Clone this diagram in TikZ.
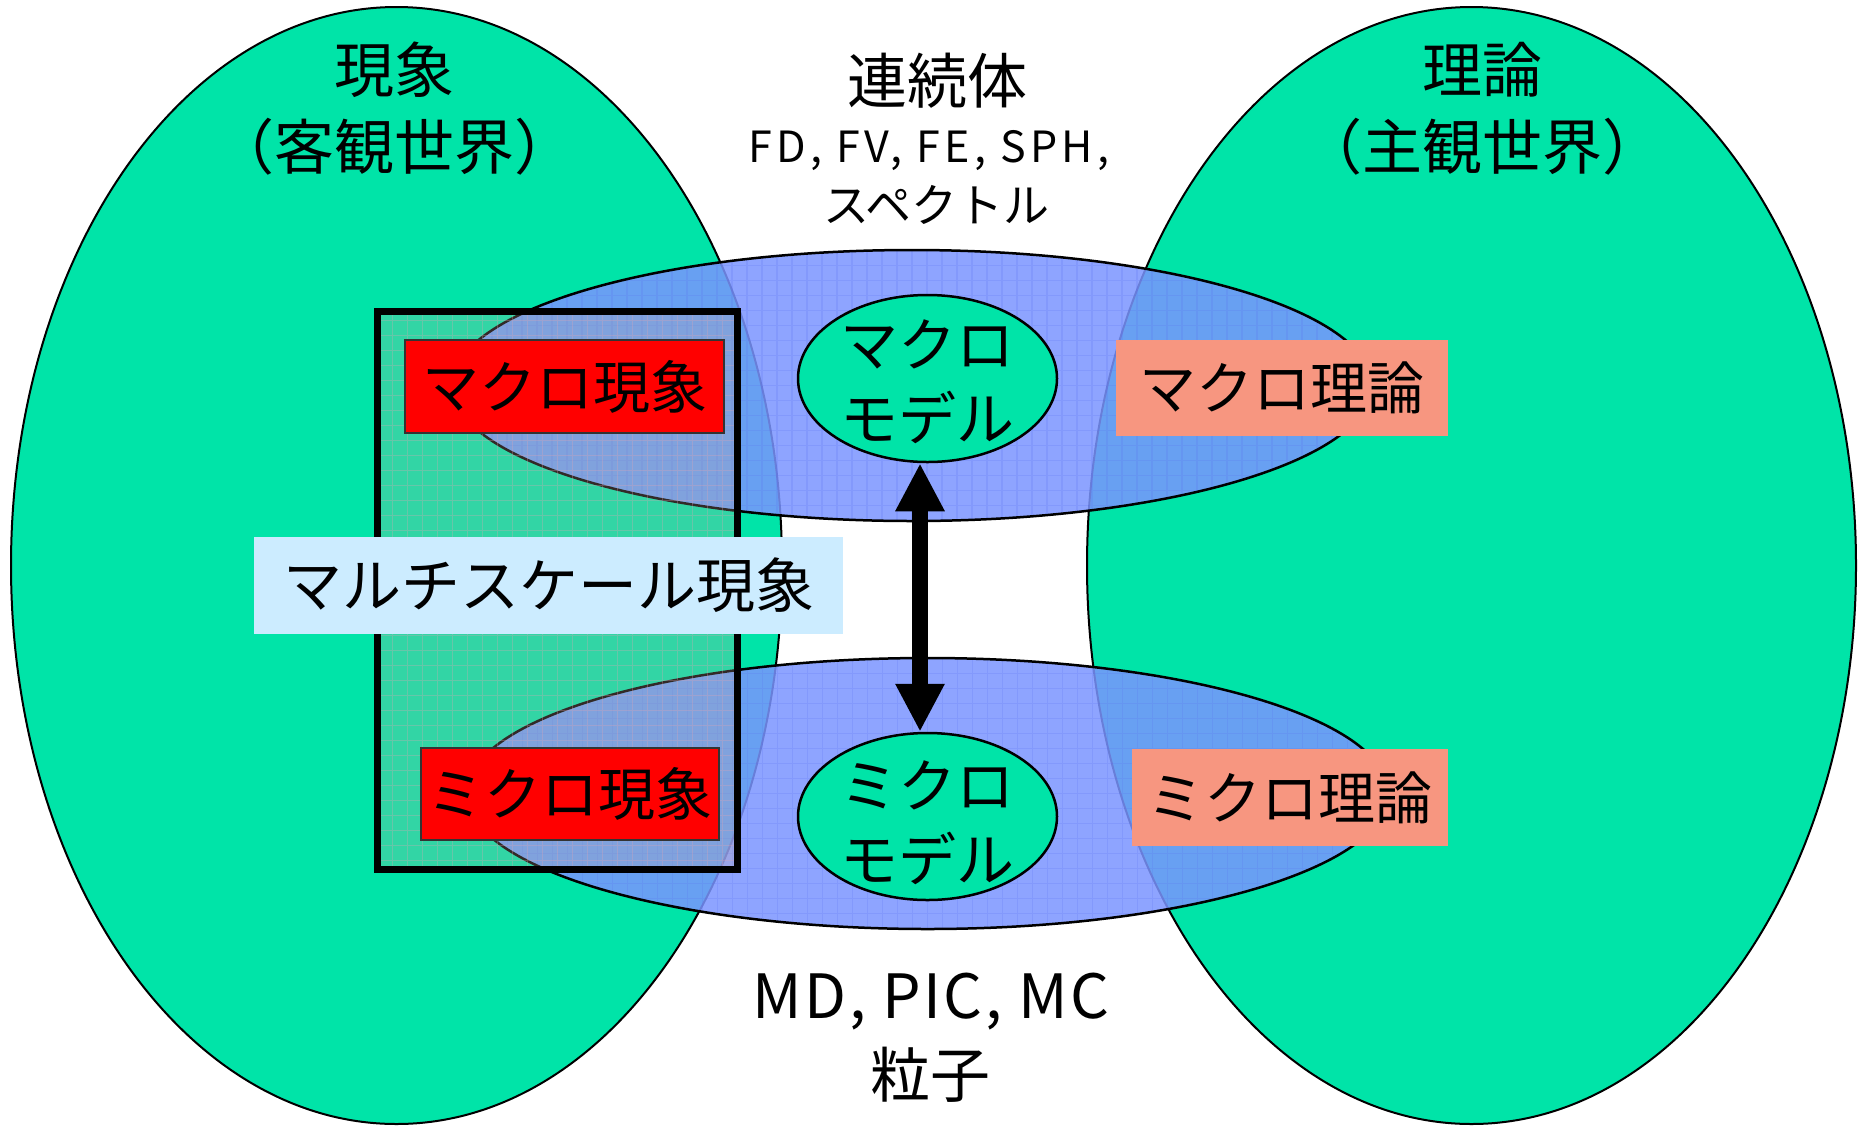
\documentclass[tikz,border=0pt]{standalone}
\usepackage{fontspec}
\setmainfont{Noto Sans CJK JP}
\usetikzlibrary{shapes.geometric,arrows.meta}
\definecolor{mint}{RGB}{0,228,168}
\definecolor{periw}{RGB}{123,149,255}
\definecolor{gridblue}{RGB}{90,110,240}
\definecolor{rectfill}{RGB}{200,170,160}
\definecolor{rectgridc}{RGB}{225,165,180}
\definecolor{salmonc}{RGB}{247,150,128}
\definecolor{skyc}{RGB}{204,236,255}
\newcommand{\fsz}[2]{\fontsize{#1pt}{#2pt}\selectfont}
\begin{document}
\begin{tikzpicture}[x=1pt,y=-1pt,
  world/.style={draw=black,line width=2pt,fill=mint},
  scaleell/.style={ellipse,draw=black,line width=2.5pt,fill=periw,fill opacity=0.85,inner sep=0pt,
    path picture={\draw[gridblue,draw opacity=0.2,line width=1.2pt]
      (path picture bounding box.south west) grid[step=15pt] (path picture bounding box.north east);}},
  multibox/.style={rectangle,draw=black,line width=7pt,fill=rectfill,fill opacity=0.25,inner sep=0pt,
    path picture={\draw[rectgridc,draw opacity=0.3,line width=1pt]
      (path picture bounding box.south west) grid[step=15pt] (path picture bounding box.north east);}},
  redlabel/.style={rectangle,draw=black!80,line width=1.5pt,fill=red,inner sep=0pt,font=\fsz{57}{68}},
  theorylabel/.style={rectangle,fill=salmonc,inner sep=0pt,font=\fsz{57}{68}},
  skylabel/.style={rectangle,fill=skyc,inner sep=0pt,font=\fsz{59}{70}},
  model/.style={ellipse,draw=black,line width=2.5pt,fill=mint,inner sep=0pt,
    minimum width=259pt,minimum height=167pt},
  title/.style={align=center,inner sep=0pt,font=\fsz{60}{77}},
  modeltext/.style={align=center,inner sep=0pt,font=\fsz{58}{74}},
  plain/.style={inner sep=0pt,anchor=base},
  biarrow/.style={line width=16pt,arrows={Triangle[length=48pt,width=46pt]-Triangle[length=48pt,width=46pt]}}
]
\useasboundingbox (0,0) rectangle (1860,1125);
\fill[white] (0,0) rectangle (1860,1125);

% two worlds
\draw[world] (396.5,565.5) ellipse [x radius=385.5pt, y radius=558.5pt];
\draw[world] (1471.5,565.5) ellipse [x radius=384.5pt, y radius=558.5pt];

% scale ellipses
\node[scaleell,minimum width=920pt,minimum height=271pt] (contin) at (912,385.5) {};
\node[scaleell,minimum width=922pt,minimum height=271pt] (partic) at (927.5,793.5) {};

% multiscale box
\node[multibox,minimum width=360pt,minimum height=558pt] (ms) at (557,590) {};

% labels in boxes
\node[redlabel,minimum width=319pt,minimum height=93pt] (macph) at (564.5,386.5) {マクロ現象};
\node[redlabel,minimum width=298pt,minimum height=92pt] (micph) at (570,794) {ミクロ現象};
\node[skylabel,minimum width=589pt,minimum height=97pt] (msl) at (548.5,585.5) {マルチスケール現象};
\node[theorylabel,minimum width=332pt,minimum height=96pt] (macth) at (1282,388) {マクロ理論};
\node[theorylabel,minimum width=316pt,minimum height=97pt] (micth) at (1290,797.5) {ミクロ理論};

% models
\node[model] (macro) at (927.5,378.5) {};
\node[model] (micro) at (927.5,816.5) {};
\node[modeltext] (macrot) at (927.5,381.5) {マクロ\\モデル};
\node[modeltext] (microt) at (927.5,822.5) {ミクロ\\モデル};

\draw[biarrow] ([xshift=-7.5pt]macro.south) -- ([xshift=-7.5pt]micro.north);

% titles
\node[title] (phen) at (394.5,108.5) {現象\\（客観世界）};
\node[title] (theo) at (1482,108.5) {理論\\（主観世界）};
\node[plain,font=\fsz{60}{72}] (cont) at (937.5,103) {連続体};
\node[plain,font=\fsz{43}{50}\addfontfeature{LetterSpace=10}] (contm) at (929,162) {FD, FV, FE, SPH,};
\node[plain,font=\fsz{46}{55}] (spec) at (936.5,222.5) {スペクトル};
\node[plain,font=\fsz{61}{72}\addfontfeature{LetterSpace=4}] (partm) at (931,1018) {MD, PIC, MC};
\node[plain,font=\fsz{60}{72}] (part) at (930,1097) {粒子};
\end{tikzpicture}
\end{document}
